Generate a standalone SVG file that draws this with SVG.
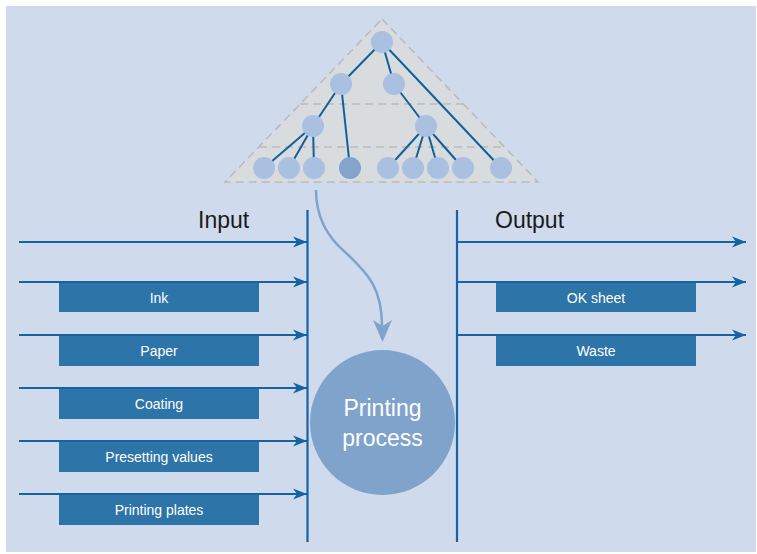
<svg xmlns="http://www.w3.org/2000/svg" width="757" height="554" viewBox="0 0 757 554">
<style>
.bg{fill:#cfdbec}
.tri{fill:#d9dcdf;stroke:#b9bcbf;stroke-width:1.6;stroke-dasharray:8,5}
.dash{stroke:#b9bcbf;stroke-width:1.6;stroke-dasharray:8,5;fill:none}
.edge{stroke:#11609a;stroke-width:2;fill:none}
.tn{fill:#a9c0e0}
.tnd{fill:#84a4cb}
.flow{stroke:#1563a0;stroke-width:2;fill:none}
.bar{stroke:#1563a0;stroke-width:2.2}
.box{fill:#2d74a8}
.bt{font-family:"Liberation Sans",Arial,sans-serif;font-size:14px;fill:#ffffff;text-anchor:middle}
.hd{font-family:"Liberation Sans",Arial,sans-serif;font-size:23px;fill:#1a1a1a}
.ct{font-family:"Liberation Sans",Arial,sans-serif;font-size:23px;fill:#ffffff;text-anchor:middle}
</style>
<defs>
<marker id="ah" markerWidth="16" markerHeight="12" refX="14" refY="6" orient="auto" markerUnits="userSpaceOnUse">
<path d="M0,0.5 L14,6 L0,11.5 L4,6 Z" fill="#1563a0"/>
</marker>
</defs>
<rect class="bg" x="6" y="6" width="750" height="546"/>

<g id="hierarchy">
<polygon class="tri" points="382,19 538,182 225,182"/>
<line class="dash" x1="300" y1="104" x2="463" y2="104"/>
<line class="dash" x1="259" y1="147" x2="505" y2="147"/>
<g class="edges">
<line class="edge" x1="382" y1="42" x2="341" y2="84"/>
<line class="edge" x1="382" y1="42" x2="394" y2="84"/>
<line class="edge" x1="382" y1="42" x2="501" y2="168"/>
<line class="edge" x1="341" y1="84" x2="313" y2="126"/>
<line class="edge" x1="341" y1="84" x2="350" y2="168"/>
<line class="edge" x1="394" y1="84" x2="426" y2="126"/>
<line class="edge" x1="313" y1="126" x2="264" y2="168"/>
<line class="edge" x1="313" y1="126" x2="289" y2="168"/>
<line class="edge" x1="313" y1="126" x2="314" y2="168"/>
<line class="edge" x1="426" y1="126" x2="388" y2="168"/>
<line class="edge" x1="426" y1="126" x2="413" y2="168"/>
<line class="edge" x1="426" y1="126" x2="438" y2="168"/>
<line class="edge" x1="426" y1="126" x2="463" y2="168"/>
</g>
<circle class="tn" cx="382" cy="42" r="11"/>
<circle class="tn" cx="341" cy="84" r="11"/>
<circle class="tn" cx="394" cy="84" r="11"/>
<circle class="tn" cx="313" cy="126" r="11"/>
<circle class="tn" cx="426" cy="126" r="11"/>
<circle class="tn" cx="264" cy="168" r="11"/>
<circle class="tn" cx="289" cy="168" r="11"/>
<circle class="tn" cx="314" cy="168" r="11"/>
<circle class="tnd" cx="350" cy="168" r="11"/>
<circle class="tn" cx="388" cy="168" r="11"/>
<circle class="tn" cx="413" cy="168" r="11"/>
<circle class="tn" cx="438" cy="168" r="11"/>
<circle class="tn" cx="463" cy="168" r="11"/>
<circle class="tn" cx="501" cy="168" r="11"/>
</g>

<g id="process">
<circle cx="382.5" cy="422.5" r="72.5" fill="#80a3cb"/>
<text class="ct" x="382.5" y="416">Printing</text>
<text class="ct" x="382.5" y="446">process</text>
</g>

<g id="input-label"><text class="hd" x="198" y="228">Input</text></g>
<g id="output-label"><text class="hd" x="495" y="228">Output</text></g>

<g id="boxes">
<g id="ink"><rect class="box" x="59" y="283" width="200" height="29"/><text class="bt" x="159" y="303">Ink</text></g>
<g id="paper"><rect class="box" x="59" y="336" width="200" height="30"/><text class="bt" x="159" y="356">Paper</text></g>
<g id="coating"><rect class="box" x="59" y="389" width="200" height="30"/><text class="bt" x="159" y="409">Coating</text></g>
<g id="presetting"><rect class="box" x="59" y="442" width="200" height="30"/><text class="bt" x="159" y="462">Presetting values</text></g>
<g id="plates"><rect class="box" x="59" y="495" width="200" height="30"/><text class="bt" x="159" y="515">Printing plates</text></g>
<g id="oksheet"><rect class="box" x="496" y="283" width="200" height="29"/><text class="bt" x="596" y="302.5">OK sheet</text></g>
<g id="waste"><rect class="box" x="496" y="336" width="200" height="30"/><text class="bt" x="596" y="356">Waste</text></g>
</g>

<g id="connectors">
<line class="bar" x1="307.5" y1="210" x2="307.5" y2="542"/>
<line class="bar" x1="457" y1="210" x2="457" y2="542"/>
<line class="flow" x1="19" y1="242" x2="307" y2="242" marker-end="url(#ah)"/>
<line class="flow" x1="19" y1="282" x2="307" y2="282" marker-end="url(#ah)"/>
<line class="flow" x1="19" y1="335" x2="307" y2="335" marker-end="url(#ah)"/>
<line class="flow" x1="19" y1="388" x2="307" y2="388" marker-end="url(#ah)"/>
<line class="flow" x1="19" y1="441" x2="307" y2="441" marker-end="url(#ah)"/>
<line class="flow" x1="19" y1="494" x2="307" y2="494" marker-end="url(#ah)"/>
<line class="flow" x1="457" y1="242" x2="746" y2="242" marker-end="url(#ah)"/>
<line class="flow" x1="457" y1="282" x2="746" y2="282" marker-end="url(#ah)"/>
<line class="flow" x1="457" y1="335" x2="746" y2="335" marker-end="url(#ah)"/>
<path d="M316,190 C316,215 325,235 345,252 C370,275 382,290 382,326" fill="none" stroke="#7fa3cb" stroke-width="2.5"/>
<path d="M373,320 L382.5,342 L392,320 L382.5,326 Z" fill="#7fa3cb"/>
</g>
</svg>
